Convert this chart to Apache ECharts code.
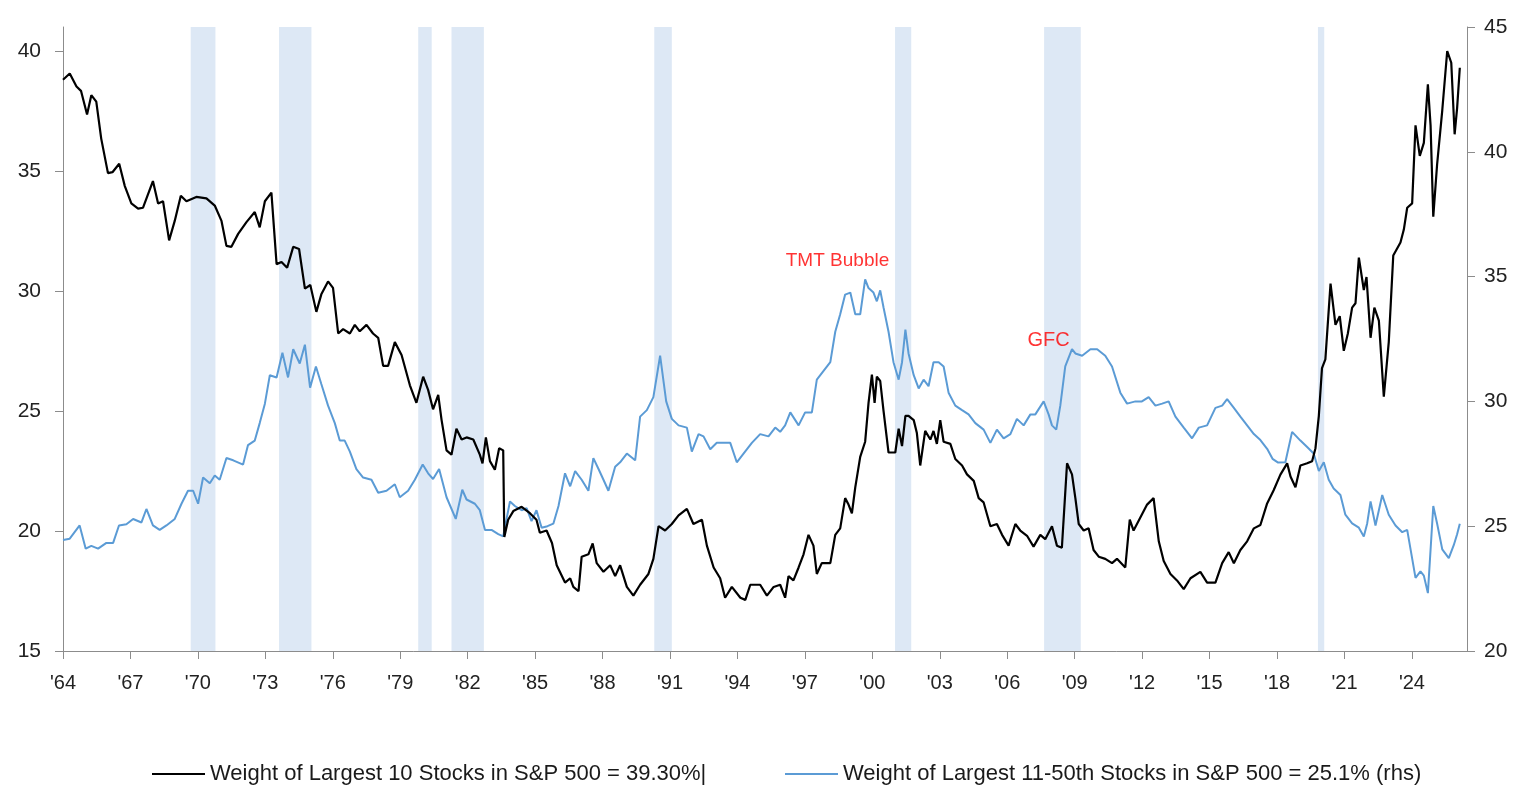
<!DOCTYPE html>
<html>
<head>
<meta charset="utf-8">
<script src="https://cdn.jsdelivr.net/npm/echarts@6/dist/echarts.min.js"></script>
<style>html,body{margin:0;padding:0;background:#fff}#c{width:1517px;height:787px}</style>
</head>
<body>
<div id="c"></div>
<script>
const xTicks = [1964,1967,1970,1973,1976,1979,1982,1985,1988,1991,1994,1997,2000,2003,2006,2009,2012,2015,2018,2021,2024];
const leftTicks = [15,20,25,30,35,40];
const rightTicks = [20,25,30,35,40,45];
const recessions = [[1969.68,1970.78],[1973.61,1975.05],[1979.8,1980.4],[1981.28,1982.72],[1990.3,1991.08],[2001.01,2001.73],[2007.64,2009.27],[2019.82,2020.1]];
const top10Name = 'Weight of Largest 10 Stocks in S&P 500 = 39.30%|';
const next40Name = 'Weight of Largest 11-50th Stocks in S&P 500 = 25.1% (rhs)';
const annotationLabels = ['TMT Bubble', 'GFC'];
const annotationYears = [1998.45, 2007.84];
const annotationValues = [35.62, 32.46];

const top10 = [
[1964.0,38.8],[1964.3,39.06],[1964.6,38.52],[1964.8,38.34],[1965.07,37.35],[1965.26,38.16],[1965.48,37.89],[1965.7,36.35],[1966.0,34.91],[1966.2,34.95],[1966.5,35.3],[1966.75,34.37],[1967.04,33.65],[1967.34,33.43],[1967.56,33.47],[1968.0,34.58],[1968.23,33.65],[1968.45,33.74],[1968.72,32.11],[1968.97,32.92],[1969.24,33.97],[1969.49,33.74],[1969.93,33.92],[1970.38,33.86],[1970.75,33.56],[1971.05,32.92],[1971.27,31.88],[1971.49,31.84],[1971.79,32.38],[1972.16,32.87],[1972.53,33.29],[1972.75,32.65],[1972.98,33.74],[1973.27,34.1],[1973.5,31.12],[1973.72,31.21],[1973.97,30.97],[1974.24,31.84],[1974.5,31.75],[1974.76,30.1],[1975.0,30.25],[1975.27,29.13],[1975.49,29.86],[1975.79,30.4],[1976.01,30.13],[1976.24,28.23],[1976.46,28.41],[1976.76,28.23],[1976.98,28.59],[1977.2,28.32],[1977.5,28.59],[1977.79,28.23],[1978.02,28.05],[1978.24,26.88],[1978.46,26.88],[1978.76,27.87],[1979.06,27.33],[1979.43,26.07],[1979.72,25.34],[1980.02,26.43],[1980.24,25.88],[1980.46,25.07],[1980.69,25.67],[1980.84,24.62],[1981.06,23.36],[1981.28,23.18],[1981.5,24.26],[1981.73,23.81],[1981.95,23.9],[1982.25,23.81],[1982.54,23.18],[1982.66,22.82],[1982.81,23.9],[1982.99,22.91],[1983.21,22.55],[1983.4,23.45],[1983.58,23.36],[1983.63,19.75],[1983.8,20.47],[1984.03,20.83],[1984.4,21.01],[1984.77,20.74],[1985.06,20.47],[1985.21,19.93],[1985.51,20.02],[1985.75,19.5],[1985.96,18.57],[1986.33,17.85],[1986.56,18.03],[1986.7,17.67],[1986.93,17.49],[1987.07,18.93],[1987.37,19.03],[1987.56,19.48],[1987.74,18.66],[1988.04,18.3],[1988.34,18.57],[1988.56,18.12],[1988.78,18.57],[1989.08,17.67],[1989.37,17.31],[1989.67,17.76],[1990.04,18.21],[1990.26,18.84],[1990.49,20.2],[1990.78,20.02],[1991.08,20.29],[1991.38,20.65],[1991.75,20.92],[1992.04,20.29],[1992.42,20.47],[1992.64,19.39],[1992.94,18.48],[1993.23,18.03],[1993.45,17.22],[1993.75,17.67],[1994.13,17.22],[1994.35,17.13],[1994.57,17.76],[1995.01,17.76],[1995.31,17.31],[1995.61,17.67],[1995.9,17.76],[1996.12,17.22],[1996.27,18.12],[1996.49,17.94],[1996.72,18.48],[1996.94,19.03],[1997.16,19.84],[1997.38,19.39],[1997.53,18.21],[1997.75,18.66],[1998.13,18.66],[1998.35,19.84],[1998.57,20.11],[1998.79,21.37],[1998.94,21.1],[1999.09,20.74],[1999.24,21.82],[1999.46,23.09],[1999.68,23.72],[1999.83,25.34],[1999.98,26.52],[2000.1,25.34],[2000.2,26.43],[2000.35,26.25],[2000.5,24.98],[2000.72,23.27],[2001.02,23.27],[2001.17,24.26],[2001.32,23.54],[2001.47,24.8],[2001.61,24.8],[2001.84,24.62],[2001.98,24.08],[2002.13,22.73],[2002.35,24.17],[2002.58,23.81],[2002.72,24.17],[2002.87,23.63],[2003.02,24.62],[2003.17,23.72],[2003.47,23.63],[2003.69,23.0],[2003.99,22.73],[2004.21,22.36],[2004.51,22.09],[2004.73,21.37],[2004.95,21.19],[2005.25,20.2],[2005.54,20.29],[2005.77,19.84],[2006.06,19.39],[2006.36,20.29],[2006.58,20.02],[2006.88,19.8],[2007.17,19.35],[2007.47,19.84],[2007.69,19.66],[2007.99,20.2],[2008.21,19.39],[2008.43,19.3],[2008.66,22.82],[2008.88,22.36],[2009.03,21.37],[2009.18,20.29],[2009.4,20.02],[2009.62,20.11],[2009.84,19.21],[2010.07,18.93],[2010.36,18.84],[2010.66,18.66],[2010.88,18.84],[2011.25,18.48],[2011.45,20.47],[2011.62,20.02],[2011.92,20.56],[2012.22,21.1],[2012.51,21.37],[2012.74,19.57],[2012.96,18.75],[2013.26,18.21],[2013.55,17.94],[2013.85,17.58],[2014.15,18.03],[2014.59,18.3],[2014.89,17.85],[2015.26,17.85],[2015.56,18.66],[2015.85,19.12],[2016.08,18.66],[2016.37,19.21],[2016.67,19.57],[2016.97,20.11],[2017.26,20.25],[2017.56,21.15],[2017.85,21.7],[2018.15,22.35],[2018.45,22.82],[2018.6,22.27],[2018.82,21.82],[2019.04,22.73],[2019.34,22.82],[2019.56,22.91],[2019.71,23.45],[2019.86,24.8],[2020.0,26.79],[2020.15,27.15],[2020.38,30.31],[2020.6,28.59],[2020.79,28.95],[2020.97,27.51],[2021.15,28.23],[2021.34,29.31],[2021.49,29.49],[2021.64,31.39],[2021.86,30.04],[2021.98,30.58],[2022.16,28.05],[2022.33,29.31],[2022.53,28.77],[2022.75,25.6],[2022.97,27.87],[2023.17,31.48],[2023.49,32.02],[2023.64,32.56],[2023.79,33.47],[2024.01,33.65],[2024.16,36.9],[2024.35,35.63],[2024.53,36.17],[2024.71,38.61],[2024.83,36.9],[2024.95,33.1],[2025.12,35.27],[2025.35,37.53],[2025.57,40.0],[2025.75,39.51],[2025.9,36.53],[2026.01,37.62],[2026.13,39.3]
];

const next40 = [
[1964.0,24.45],[1964.3,24.5],[1964.74,25.03],[1965.01,24.1],[1965.26,24.21],[1965.56,24.1],[1965.93,24.33],[1966.23,24.33],[1966.49,25.03],[1966.82,25.08],[1967.12,25.29],[1967.49,25.15],[1967.71,25.69],[1968.0,25.03],[1968.3,24.85],[1968.6,25.03],[1968.97,25.29],[1969.27,25.9],[1969.56,26.42],[1969.79,26.42],[1970.01,25.9],[1970.23,26.95],[1970.53,26.72],[1970.75,27.03],[1970.97,26.86],[1971.27,27.73],[1971.57,27.64],[1972.01,27.47],[1972.23,28.25],[1972.53,28.43],[1972.75,29.13],[1972.98,29.91],[1973.2,31.05],[1973.5,30.96],[1973.76,31.95],[1974.01,30.96],[1974.24,32.09],[1974.53,31.52],[1974.76,32.27],[1974.99,30.55],[1975.25,31.4],[1975.49,30.7],[1975.79,29.83],[1976.09,29.13],[1976.31,28.43],[1976.53,28.43],[1976.76,27.99],[1977.05,27.29],[1977.35,26.95],[1977.72,26.86],[1978.02,26.34],[1978.39,26.42],[1978.76,26.68],[1978.98,26.16],[1979.35,26.42],[1979.65,26.86],[1980.0,27.47],[1980.24,27.12],[1980.46,26.89],[1980.73,27.29],[1981.06,26.16],[1981.47,25.29],[1981.76,26.46],[1981.95,26.07],[1982.32,25.9],[1982.54,25.64],[1982.77,24.85],[1983.06,24.85],[1983.36,24.68],[1983.58,24.59],[1983.88,25.99],[1984.1,25.81],[1984.4,25.64],[1984.62,25.72],[1984.84,25.2],[1985.06,25.64],[1985.29,24.94],[1985.55,25.0],[1985.81,25.1],[1986.04,25.81],[1986.33,27.12],[1986.56,26.6],[1986.78,27.21],[1987.07,26.86],[1987.37,26.42],[1987.59,27.73],[1987.82,27.29],[1988.04,26.86],[1988.26,26.42],[1988.56,27.38],[1988.78,27.56],[1989.08,27.91],[1989.45,27.64],[1989.67,29.39],[1989.97,29.65],[1990.26,30.17],[1990.56,31.83],[1990.83,30.0],[1991.08,29.3],[1991.38,29.04],[1991.75,28.95],[1991.97,27.99],[1992.27,28.69],[1992.49,28.6],[1992.79,28.08],[1993.08,28.34],[1993.38,28.34],[1993.68,28.34],[1993.97,27.56],[1994.27,27.91],[1994.64,28.34],[1995.01,28.69],[1995.38,28.6],[1995.68,28.95],[1995.9,28.78],[1996.12,29.04],[1996.35,29.56],[1996.72,29.04],[1997.01,29.56],[1997.31,29.56],[1997.53,30.87],[1997.83,31.22],[1998.13,31.57],[1998.35,32.79],[1998.57,33.49],[1998.79,34.28],[1999.02,34.36],[1999.24,33.49],[1999.46,33.49],[1999.68,34.89],[1999.83,34.54],[2000.05,34.36],[2000.2,34.01],[2000.35,34.45],[2000.5,33.75],[2000.72,32.79],[2000.94,31.57],[2001.17,30.87],[2001.32,31.57],[2001.47,32.88],[2001.61,31.92],[2001.84,31.05],[2002.06,30.52],[2002.28,30.87],[2002.5,30.61],[2002.72,31.57],[2002.95,31.57],[2003.17,31.4],[2003.39,30.35],[2003.69,29.83],[2003.99,29.65],[2004.28,29.48],[2004.58,29.13],[2004.95,28.87],[2005.25,28.34],[2005.54,28.87],[2005.84,28.52],[2006.14,28.69],[2006.43,29.3],[2006.73,29.04],[2007.03,29.48],[2007.25,29.48],[2007.62,30.0],[2007.84,29.48],[2007.99,29.04],[2008.18,28.87],[2008.36,29.83],[2008.58,31.4],[2008.88,32.09],[2009.03,31.92],[2009.33,31.83],[2009.7,32.09],[2010.0,32.09],[2010.36,31.83],[2010.66,31.4],[2011.03,30.35],[2011.33,29.91],[2011.7,30.0],[2011.99,30.0],[2012.29,30.17],[2012.59,29.83],[2012.89,29.91],[2013.18,30.0],[2013.48,29.39],[2013.85,28.95],[2014.22,28.52],[2014.52,28.95],[2014.89,29.04],[2015.26,29.74],[2015.56,29.83],[2015.78,30.09],[2016.08,29.74],[2016.37,29.39],[2016.67,29.04],[2016.97,28.69],[2017.26,28.45],[2017.56,28.1],[2017.8,27.7],[2018.05,27.55],[2018.37,27.56],[2018.67,28.78],[2019.04,28.43],[2019.34,28.17],[2019.63,27.91],[2019.86,27.21],[2020.08,27.56],[2020.3,26.86],[2020.52,26.51],[2020.82,26.25],[2021.04,25.46],[2021.34,25.11],[2021.64,24.94],[2021.86,24.59],[2022.01,25.11],[2022.16,25.99],[2022.38,25.03],[2022.68,26.25],[2022.97,25.46],[2023.27,25.03],[2023.57,24.76],[2023.79,24.85],[2024.16,22.93],[2024.38,23.19],[2024.53,23.02],[2024.71,22.32],[2024.95,25.81],[2025.12,25.11],[2025.35,24.07],[2025.64,23.72],[2025.86,24.24],[2026.01,24.68],[2026.13,25.1]
];

const FONT = '"Liberation Sans", Arial, sans-serif';
const chart = echarts.init(document.getElementById('c'), null, {renderer: 'canvas'});
const axisLineStyle = {color: '#8c8c8c', width: 1};
const annotationSizes = [19, 20];
chart.setOption({
  animation: false,
  backgroundColor: '#ffffff',
  grid: {left: 63, right: 50, top: 27, bottom: 136, containLabel: false},
  legend: [
    {data: [top10Name], left: 152, top: 763, padding: 0, icon: 'rect', itemWidth: 53, itemHeight: 2, itemGap: 0,
     textStyle: {fontFamily: FONT, fontSize: 22, color: '#1a1a1a'}},
    {data: [next40Name], left: 785, top: 763, padding: 0, icon: 'rect', itemWidth: 53, itemHeight: 2, itemGap: 0,
     textStyle: {fontFamily: FONT, fontSize: 22, color: '#1a1a1a'}}
  ],
  xAxis: {
    type: 'value', min: 1964, max: 2026.45,
    axisLine: {show: true, lineStyle: axisLineStyle},
    axisTick: {show: true, length: 8, lineStyle: axisLineStyle, customValues: xTicks},
    axisLabel: {customValues: xTicks, margin: 22, fontFamily: FONT, fontSize: 20, color: '#222',
      formatter: v => "'" + String(v).slice(2)},
    splitLine: {show: false}
  },
  yAxis: [
    {type: 'value', min: 15, max: 41, position: 'left',
     axisLine: {show: true, lineStyle: axisLineStyle},
     axisTick: {show: true, length: 8, lineStyle: axisLineStyle, customValues: leftTicks},
     axisLabel: {customValues: leftTicks, margin: 22, fontFamily: FONT, fontSize: 21, color: '#222'},
     splitLine: {show: false}},
    {type: 'value', min: 20, max: 45, position: 'right',
     axisLine: {show: true, lineStyle: axisLineStyle},
     axisTick: {show: true, length: 8, lineStyle: axisLineStyle, customValues: rightTicks},
     axisLabel: {customValues: rightTicks, margin: 17, fontFamily: FONT, fontSize: 21, color: '#222'},
     splitLine: {show: false}}
  ],
  series: [
    {name: 'recessions', type: 'line', data: [], xAxisIndex: 0, yAxisIndex: 0, silent: true, z: 1,
     markArea: {silent: true, itemStyle: {color: '#dde8f5'},
       data: recessions.map(r => [{xAxis: r[0]}, {xAxis: r[1]}])}},
    {name: next40Name, type: 'line', yAxisIndex: 1, data: next40, showSymbol: false, symbol: 'none', z: 3,
     lineStyle: {color: '#5b9bd5', width: 2}, itemStyle: {color: '#5b9bd5'}},
    {name: top10Name, type: 'line', yAxisIndex: 0, data: top10, showSymbol: false, symbol: 'none', z: 4,
     lineStyle: {color: '#000000', width: 2.2}, itemStyle: {color: '#000000'}},
    {name: 'annotations', type: 'scatter', yAxisIndex: 1, silent: true, z: 5,
     symbol: 'circle', symbolSize: 1, itemStyle: {color: 'rgba(0,0,0,0)'},
     data: annotationLabels.map((t, i) => ({value: [annotationYears[i], annotationValues[i]], name: t,
       label: {show: true, position: 'inside', formatter: t, color: '#ff0000', fontFamily: FONT, fontSize: annotationSizes[i]}}))}
  ]
});
</script>
</body>
</html>
